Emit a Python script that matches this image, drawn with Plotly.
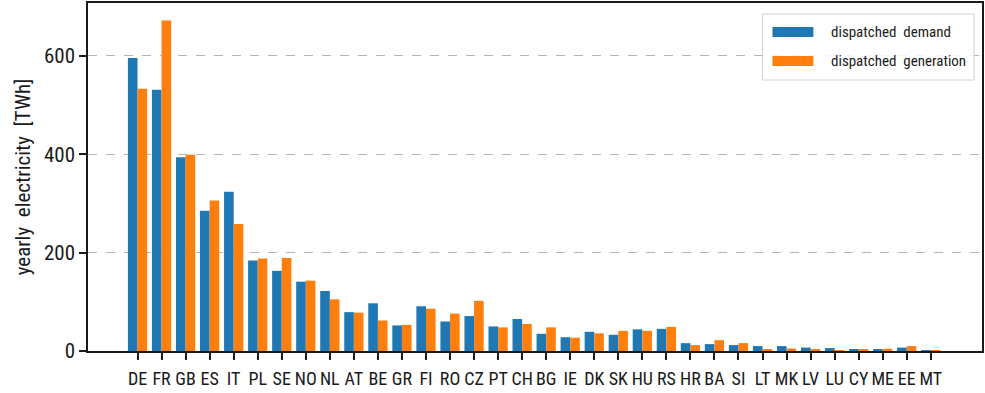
import plotly.graph_objects as go

# Yearly dispatched electricity per country [TWh]
countries = ["DE", "FR", "GB", "ES", "IT", "PL", "SE", "NO", "NL", "AT", "BE",
             "GR", "FI", "RO", "CZ", "PT", "CH", "BG", "IE", "DK", "SK", "HU",
             "RS", "HR", "BA", "SI", "LT", "MK", "LV", "LU", "CY", "ME", "EE", "MT"]
demand = [596, 531, 394, 285, 324, 184, 163, 141, 122, 79, 97,
          52, 91, 60, 71, 50, 65, 35, 28, 39, 33, 44,
          45, 16, 14, 12, 10, 10, 7, 6, 3, 3, 7, 1.5]
generation = [533, 672, 399, 306, 258, 188, 189, 143, 105, 78, 62,
              53, 86, 76, 102, 48, 55, 48, 27, 36, 41, 41,
              49, 12, 22, 16, 4, 5, 4, 1.5, 3, 4.5, 10, 0.5]

BLUE = "#1f77b4"
ORANGE = "#ff7f0e"
INK = "#1a1a1a"
FONT = "Roboto Condensed, Liberation Sans Narrow, sans-serif"

W, H = 985, 393
L, R, T, B = 88, 1, 3, 42

fig = go.Figure()
fig.add_trace(go.Bar(x=countries, y=demand, name="dispatched demand",
                     marker=dict(color=BLUE, line=dict(width=0))))
fig.add_trace(go.Bar(x=countries, y=generation, name="dispatched generation",
                     marker=dict(color=ORANGE, line=dict(width=0))))

# helpers to place legend pieces in pixel terms
pw, ph = W - L - R, H - T - B


def px_x(x):
    return (x - L) / pw


def px_y(y):
    return (H - B - y) / ph


legend_items = [("dispatched demand", BLUE, 32), ("dispatched generation", ORANGE, 61)]
shapes = [dict(type="rect", xref="paper", yref="paper",
               x0=px_x(764), x1=px_x(976), y0=px_y(80), y1=px_y(14),
               line=dict(color="#d0d0d0", width=1), fillcolor="rgba(255,255,255,0.85)",
               layer="above")]
annotations = []
for label, color, yc in legend_items:
    shapes.append(dict(type="rect", xref="paper", yref="paper",
                       x0=px_x(774), x1=px_x(815), y0=px_y(yc + 5), y1=px_y(yc - 5),
                       line=dict(width=0), fillcolor=color, layer="above"))
    annotations.append(dict(text=label.replace(" ", "&nbsp; "), xref="paper", yref="paper",
                            x=px_x(831), y=px_y(yc), xanchor="left", yanchor="middle",
                            showarrow=False, font=dict(family=FONT, size=15, color=INK)))

fig.update_layout(
    width=W, height=H,
    margin=dict(l=L, r=R, t=T, b=B),
    paper_bgcolor="white", plot_bgcolor="white",
    barmode="group", bargap=0.2, bargroupgap=0,
    showlegend=False,
    font=dict(family=FONT, size=20, color=INK),
    shapes=shapes, annotations=annotations,
)
fig.update_xaxes(
    type="category", range=[-2.06, 35.13], tickangle=0,
    tickmode="array", tickvals=countries, ticktext=countries,
    showline=True, linecolor=INK, linewidth=1.5, mirror=True,
    ticks="outside", ticklen=7, tickcolor=INK, tickwidth=1.5,
    tickfont=dict(family=FONT, size=18, color=INK), ticklabelstandoff=4,
    showgrid=False,
)
fig.update_yaxes(
    range=[0, 707.6],
    tickvals=[0, 200, 400, 600],
    showline=True, linecolor=INK, linewidth=1.5, mirror=True,
    ticks="outside", ticklen=7, tickcolor=INK, tickwidth=1.5,
    tickfont=dict(family=FONT, size=21, color=INK),
    showgrid=True, gridcolor="#b5b5b5", griddash="dash", gridwidth=1,
    zeroline=False,
    title=dict(text="yearly&nbsp; electricity&nbsp; [TWh]",
               font=dict(family=FONT, size=21, color=INK), standoff=8),
)

fig.write_html("out.html")
